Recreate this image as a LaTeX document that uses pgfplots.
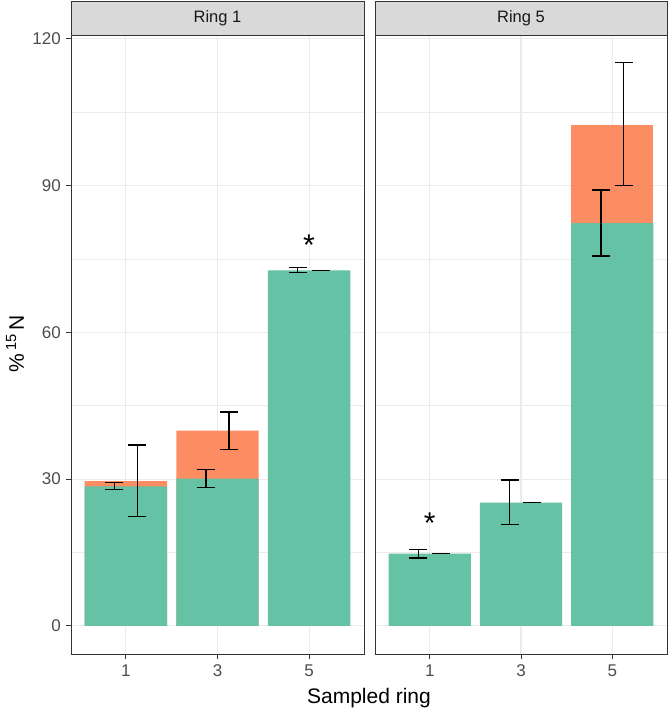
\documentclass[border=0pt]{standalone}
\usepackage{fontspec}
\setmainfont{Liberation Sans}
\usepackage{pgfplots}
\pgfplotsset{compat=1.18}
\definecolor{greenc}{HTML}{66C2A5}
\definecolor{orangec}{HTML}{FC8D62}
\definecolor{axgray}{HTML}{333333}
\definecolor{gridc}{HTML}{EBEBEB}
\definecolor{stripc}{HTML}{D9D9D9}
\definecolor{tickc}{HTML}{4D4D4D}
\pgfplotsset{
  panel/.style={
    scale only axis, clip=false,
    anchor=south west,
    height=619pt,
    xmin=0.4, xmax=3.6, ymin=-5.75, ymax=120.75,
    xtick={1,2,3}, xticklabels={1,3,5},
    ytick={0,30,60,90,120},
    minor ytick={15,45,75,105},
    grid=both,
    major grid style={draw=gridc, line width=1.1pt},
    minor grid style={draw=gridc, line width=0.55pt},
    axis line style={draw=axgray, line width=0.9pt},
    tick style={draw=axgray, line width=0.9pt},
    major tick length=5.3pt, minor tick length=0pt,
    tick align=outside,
    xtick pos=bottom, ytick pos=left,
    ticklabel style={font=\fontsize{17}{19}\selectfont, text=tickc},
    xticklabel style={inner sep=0pt, anchor=center, yshift=-11.7pt},
    yticklabel style={inner sep=0pt, anchor=east, xshift=-4.7pt},
    /pgf/number format/assume math mode=true,
  },
  errb/.style={draw=none, mark=none, forget plot,
    error bars/.cd, y dir=both, y explicit,
    error bar style={draw=black, line width=1.4pt},
    error mark options={draw=black, line width=1.4pt, mark size=9pt, rotate=90}},
  star/.style={draw=none, mark=none, forget plot, nodes near coords={*}, point meta=explicit symbolic,
    every node near coord/.style={anchor=center, inner sep=0pt, font=\fontsize{30}{30}\selectfont, yshift=-6pt}},
}
\begin{document}
\begin{tikzpicture}
\path (0,0) rectangle (669pt,708pt);
% Ring 1
\begin{axis}[panel, at={(71pt,54pt)}, width=293pt]
\addplot[ybar, bar width=0.9, bar shift=0pt, fill=orangec, draw=none] coordinates {(1,29.6) (2,39.9)};
\addplot[ybar, bar width=0.9, bar shift=0pt, fill=greenc, draw=none] coordinates {(1,28.5) (2,30.1) (3,72.65)};
\addplot[errb] coordinates {(0.875,28.6) +- (0,0.7) (1.875,30.15) +- (0,1.85) (2.875,72.7) +- (0,0.5)};
\addplot[errb] coordinates {(1.125,29.65) +- (0,7.35) (2.125,39.9) +- (0,3.8) (3.125,72.65) +- (0,0)};
\addplot[star] coordinates {(3,79.0) [*]};
\draw[fill=stripc, draw=axgray, line width=0.9pt] (rel axis cs:0,1) rectangle ([yshift=34pt]rel axis cs:1,1);
\node[font=\fontsize{16.5}{18}\selectfont, text=black!90] at ([yshift=17pt]rel axis cs:0.5,1) {Ring 1};
\end{axis}
% Ring 5
\begin{axis}[panel, at={(375pt,54pt)}, width=292pt, yticklabels={}, ytick style={draw=none}]
\addplot[ybar, bar width=0.9, bar shift=0pt, fill=orangec, draw=none] coordinates {(3,102.4)};
\addplot[ybar, bar width=0.9, bar shift=0pt, fill=greenc, draw=none] coordinates {(1,14.75) (2,25.2) (3,82.3)};
\addplot[errb] coordinates {(0.875,14.75) +- (0,0.85) (1.875,25.25) +- (0,4.55) (2.875,82.35) +- (0,6.75)};
\addplot[errb] coordinates {(1.125,14.75) +- (0,0) (2.125,25.2) +- (0,0) (3.125,102.55) +- (0,12.55)};
\addplot[star] coordinates {(1,22.2) [*]};
\draw[fill=stripc, draw=axgray, line width=0.9pt] (rel axis cs:0,1) rectangle ([yshift=34pt]rel axis cs:1,1);
\node[font=\fontsize{16.5}{18}\selectfont, text=black!90] at ([yshift=17pt]rel axis cs:0.5,1) {Ring 5};
\end{axis}
\node[font=\fontsize{21}{23}\selectfont, rotate=90, inner sep=0pt] at (15pt,364pt) {\%\,\textsuperscript{15}\,N};
\node[font=\fontsize{21}{23}\selectfont, anchor=base, inner sep=0pt] at (369pt,5pt) {Sampled ring};
\end{tikzpicture}
\end{document}
